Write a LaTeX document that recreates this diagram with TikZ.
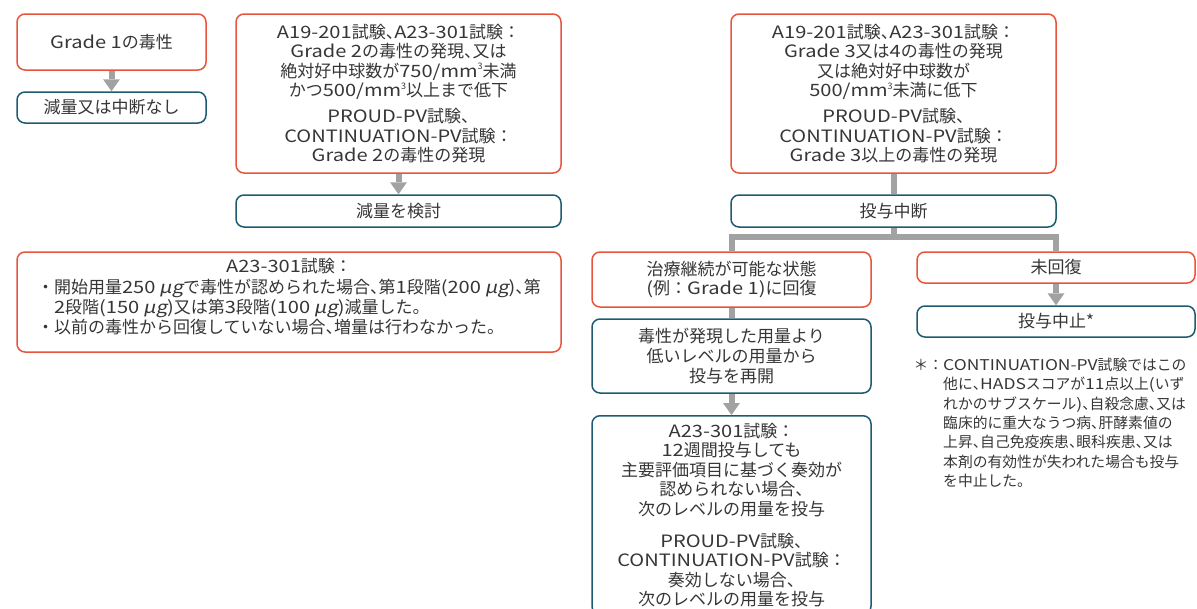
\documentclass[tikz,border=0pt]{standalone}
\usepackage{fontspec}
\setmainfont{Noto Sans CJK JP}
\newfontfamily\haltfont[RawFeature=+halt]{Noto Sans CJK JP}
\newcommand\tn{{\haltfont 、}}
\newcommand\E[1]{{\addfontfeatures{FakeStretch=1.18}#1}}
\newcommand\ug{{\addfontfeatures{FakeStretch=1.18,FakeSlant=0.2}μg}}
\newcommand\cube{\raisebox{0.45em}{\fontsize{9}{9}\selectfont 3}}
\usetikzlibrary{arrows.meta}
\definecolor{redb}{HTML}{E8543C}
\definecolor{blueb}{HTML}{1E5B72}
\definecolor{conngray}{HTML}{A2A2A2}
\definecolor{txt}{HTML}{363636}
\begin{document}
\begin{tikzpicture}[x=1pt,y=-1pt,
  every node/.style={text=txt, font=\fontsize{17}{19.6}\selectfont, align=center, inner sep=0pt},
  redbox/.style={draw=redb, line width=1.5pt, rounded corners=8pt, fill=white},
  bluebox/.style={draw=blueb, line width=1.5pt, rounded corners=8pt, fill=white},
  gline/.style={draw=conngray, line width=6pt},
  garrow/.style={gline, -{Triangle[width=17pt,length=12pt,line width=0pt]}},
  fnote/.style={font=\fontsize{14.8}{19.3}\selectfont, align=left}]
\useasboundingbox (0,0) rectangle (1197,608);

% left column
\node[redbox, minimum width=189pt, minimum height=56pt] (g1) at (111.5,42) {\E{Grade 1}の毒性};
\node[bluebox, minimum width=189pt, minimum height=31pt] (g1r) at (111.5,107.5) {減量又は中断なし};

% grade 2
\node[redbox, minimum width=325pt, minimum height=159pt] (g2) at (398.5,93.5)
  {\E{A19-201}試験\tn\E{A23-301}試験：\\\E{Grade 2}の毒性の発現\tn 又は\\絶対好中球数が\E{750/mm}\cube 未満\\かつ\E{500/mm}\cube 以上まで低下\\[6pt]\E{PROUD-PV}試験\tn\\\E{CONTINUATION-PV}試験：\\\E{Grade 2}の毒性の発現};
\node[bluebox, minimum width=325pt, minimum height=32pt] (g2r) at (398.5,211) {減量を検討};

% grade 3
\node[redbox, minimum width=325pt, minimum height=159pt] (g3) at (893.5,93.5)
  {\E{A19-201}試験\tn\E{A23-301}試験：\\\E{Grade 3}又は\E{4}の毒性の発現\\又は絶対好中球数が\\\E{500/mm}\cube 未満に低下\\[6pt]\E{PROUD-PV}試験\tn\\\E{CONTINUATION-PV}試験：\\\E{Grade 3}以上の毒性の発現};
\node[bluebox, minimum width=325pt, minimum height=32pt] (g3r) at (893.5,211) {投与中断};

% note box
\node[redbox, minimum width=544pt, minimum height=100pt] (note) at (289,302) {};
\node (notet) at (289,299) {\begin{tabular}{@{}l@{}}\multicolumn{1}{@{}c@{}}{\E{A23-301}試験：}\\
・開始用量\E{250} \ug で毒性が認められた場合\tn 第\E{1}段階\E{(200} \ug\E{)}\tn 第\\
\phantom{・}\E{2}段階\E{(150} \ug\E{)}又は第\E{3}段階\E{(100} \ug\E{)}減量した。\\
・以前の毒性から回復していない場合\tn 増量は行わなかった。\end{tabular}};

% recovery branch
\node[redbox, minimum width=279pt, minimum height=55pt] (rec) at (731.5,279.5) {治療継続が可能な状態\\\E{(}例：\E{Grade 1)}に回復};
\node[bluebox, minimum width=279pt, minimum height=74pt] (res) at (731.5,356) {毒性が発現した用量より\\低いレベルの用量から\\投与を再開};
\node[bluebox, anchor=north, minimum width=279pt, inner ysep=7pt] (nxt) at (731.5,415)
  {\E{A23-301}試験：\\\E{12}週間投与しても\\主要評価項目に基づく奏効が\\認められない場合\tn\\次のレベルの用量を投与\\[12pt]\E{PROUD-PV}試験\tn\\\E{CONTINUATION-PV}試験：\\奏効しない場合\tn\\次のレベルの用量を投与};

% non-recovery branch
\node[redbox, minimum width=278pt, minimum height=31pt] (nr) at (1056,267.5) {未回復};
\node[bluebox, minimum width=278pt, minimum height=31pt] (stop) at (1056,321.5) {投与中止*};

\node[fnote, anchor=north west] (fn) at (943,358)
  {\llap{＊：}\E{CONTINUATION-PV}試験ではこの\\他に\tn\E{HADS}スコアが\E{11}点以上\E{(}いず\\れかのサブスケール\E{)}\tn 自殺念慮\tn 又は\\臨床的に重大なうつ病\tn 肝酵素値の\\上昇\tn 自己免疫疾患\tn 眼科疾患\tn 又は\\本剤の有効性が失われた場合も投与\\を中止した。};

% connectors
\coordinate (bar) at (893.5,237);
\draw[garrow] (g1.south) -- (g1r.north);
\draw[garrow] (g2.south) -- (g2r.north);
\draw[gline] (g3.south) -- (g3r.north);
\draw[gline] (g3r.south) -- (bar);
\draw[gline] (rec.north) |- (bar) -| (nr.north);
\draw[gline] (rec.south) -- (res.north);
\draw[garrow] (res.south) -- (nxt.north);
\draw[garrow] (nr.south) -- (stop.north);
\end{tikzpicture}
\end{document}
